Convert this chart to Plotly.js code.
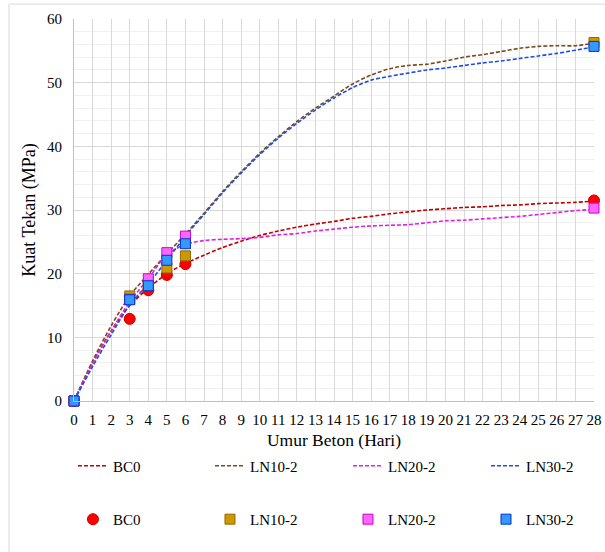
<!DOCTYPE html>
<html>
<head>
<meta charset="utf-8">
<script src="https://cdn.plot.ly/plotly-3.0.1.min.js"></script>
<style>
html,body{margin:0;padding:0;background:#fff;font-family:"Liberation Serif",serif;}
#chart{width:605px;height:552px;}
</style>
</head>
<body>
<div id="chart"></div>
<script>
// Days for the smoothed (dashed) lines
var days = [0,1,2,3,4,5,6,7,8,9,10,11,12,13,14,15,16,17,18,19,20,21,22,23,24,25,26,27,28];
var lineBC0  = [0,6.0,11.0,15.0,17.7,20.0,21.6,22.9,24.1,25.1,26.0,26.7,27.3,27.8,28.2,28.7,29.0,29.4,29.7,30.0,30.2,30.4,30.5,30.7,30.8,31.0,31.1,31.2,31.4];
var lineLN10 = [0,6.3,11.8,16.5,19.9,23.1,26.2,29.5,32.9,36.0,38.9,41.5,43.9,46.0,47.9,49.8,51.2,52.2,52.7,52.9,53.4,54.0,54.4,54.9,55.4,55.7,55.8,55.8,56.2];
var lineLN20 = [0,5.9,11.0,15.6,19.2,23.0,24.6,25.2,25.4,25.5,25.7,26.1,26.3,26.7,27.0,27.3,27.5,27.6,27.7,28.0,28.3,28.4,28.6,28.8,29.0,29.3,29.6,29.9,30.1];
var lineLN30 = [0,5.4,10.4,15.1,18.4,22.1,25.9,29.3,32.7,35.8,38.7,41.3,43.6,45.7,47.6,49.2,50.4,51.0,51.5,52.0,52.3,52.7,53.1,53.4,53.8,54.2,54.6,55.1,55.6];

// Test days for the measured points
var testDays = [0,3,4,5,6,28];
var ptBC0  = [0,12.9,17.4,19.8,21.5,31.5];
var ptLN10 = [0,16.5,18.3,20.9,22.8,56.3];
var ptLN20 = [0,16.0,19.2,23.3,25.9,30.3];
var ptLN30 = [0,15.9,18.1,22.1,24.7,55.7];

var seriesNames = ['BC0','LN10-2','LN20-2','LN30-2'];
var xTicks = days;
var yTicks = [0,10,20,30,40,50,60];

var lineColors = ['#c00000','#7f4a1a','#e020e0','#1f4fe0'];
var fillColors = ['#ff0000','#cc9900','#ff66ff','#3399ff'];
var edgeColors = ['#c00000','#996600','#cc00cc','#0033cc'];
var symbols = ['circle','square','square','square'];

var lineData = [lineBC0, lineLN10, lineLN20, lineLN30];
var ptData = [ptBC0, ptLN10, ptLN20, ptLN30];

var FAM = 'Liberation Serif';
var legendX = [-0.002, 0.2615, 0.5269, 0.7923];

var layout = {
  width: 605, height: 552,
  margin: {l: 74, r: 11, t: 19, b: 151, pad: 0},
  paper_bgcolor: '#ffffff', plot_bgcolor: '#ffffff',
  font: {family: FAM, size: 15, color: '#000000'},
  showlegend: true,
  xaxis: {
    range: [0, 28], tickmode: 'array', tickvals: xTicks, ticktext: xTicks.map(String),
    showgrid: true, gridcolor: '#d9d9d9', gridwidth: 1,
    showline: true, linecolor: '#bfbfbf', linewidth: 1,
    zeroline: false, ticks: 'outside', ticklen: 5, tickcolor: 'rgba(0,0,0,0)',
    tickfont: {family: FAM, size: 15, color: '#000'},
    title: {text: 'Umur Beton (Hari)', font: {family: FAM, size: 17.5, color: '#000'}, standoff: 6}
  },
  yaxis: {
    range: [0, 60], tickmode: 'array', tickvals: yTicks, ticktext: yTicks.map(String),
    showgrid: true, gridcolor: '#d9d9d9', gridwidth: 1,
    showline: true, linecolor: '#bfbfbf', linewidth: 1,
    zeroline: false, ticks: 'outside', ticklen: 8, tickcolor: 'rgba(0,0,0,0)',
    minor: {dtick: 2, showgrid: true, gridcolor: '#f0f0f0', gridwidth: 1},
    tickfont: {family: FAM, size: 15, color: '#000'},
    title: {text: 'Kuat Tekan (MPa)', font: {family: FAM, size: 18, color: '#000'}, standoff: 6}
  },
  shapes: [{
    type: 'rect', xref: 'paper', yref: 'paper', x0: -0.125, x1: 1.2, y0: -0.6, y1: 1.039,
    line: {color: '#d9d9d9', width: 1}, fillcolor: 'rgba(0,0,0,0)', layer: 'below'
  }]
};

var traces = [];
for (var i = 0; i < 4; i++) {
  var lid = i === 0 ? 'legend' : 'legend' + (i + 1);
  traces.push({
    x: days, y: lineData[i], type: 'scatter', mode: 'lines',
    name: seriesNames[i], legend: lid,
    line: {color: lineColors[i], width: 1.6, dash: '4px,2px', shape: 'spline', smoothing: 0.8},
    hoverinfo: 'skip'
  });
  layout[lid] = {orientation: 'h', x: legendX[i], xanchor: 'left', y: -0.17, yanchor: 'middle',
    font: {family: FAM, size: 15, color: '#000'}, bgcolor: 'rgba(0,0,0,0)', borderwidth: 0};
}
for (var j = 0; j < 4; j++) {
  var lid2 = 'legend' + (j + 5);
  traces.push({
    x: testDays, y: ptData[j], type: 'scatter', mode: 'markers',
    name: seriesNames[j], legend: lid2, cliponaxis: false,
    marker: {color: fillColors[j], symbol: symbols[j], size: j === 0 ? 11 : 10,
             line: {color: edgeColors[j], width: 1}},
    hoverinfo: 'skip'
  });
  layout[lid2] = {orientation: 'h', x: legendX[j], xanchor: 'left', y: -0.31, yanchor: 'middle',
    font: {family: FAM, size: 15, color: '#000'}, bgcolor: 'rgba(0,0,0,0)', borderwidth: 0};
}

Plotly.newPlot('chart', traces, layout, {displayModeBar: false, staticPlot: true});
</script>
</body>
</html>
